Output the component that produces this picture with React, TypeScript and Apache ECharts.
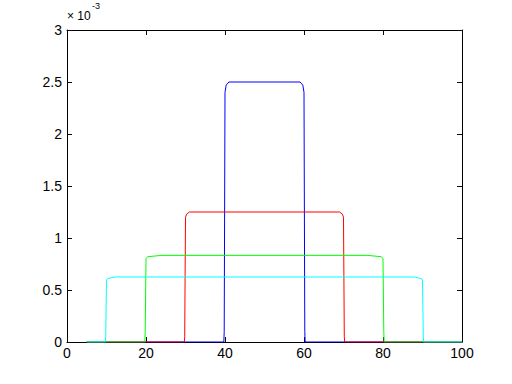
import React, { useEffect, useRef } from "react";
import * as echarts from "echarts";

const xTicks = [0, 20, 40, 60, 80, 100];
const yTickLabels = ["0", "0.5", "1", "1.5", "2", "2.5", "3"];
const yMax = 0.003;
const yStep = 0.0005;

const blueData: [number, number][] = [
  [5, 0], [39.7, 0], [39.8, 0.0001], [40.0, 0.0024], [40.3, 0.00247], [41, 0.0025],
  [59, 0.0025], [59.7, 0.00247], [60.0, 0.0024], [60.2, 0.0001], [60.3, 0], [100, 0],
];
const redData: [number, number][] = [
  [5, 0], [29.7, 0], [29.8, 0.00005], [30.0, 0.0012], [30.3, 0.00123], [31, 0.00125],
  [69, 0.00125], [69.7, 0.00123], [70.0, 0.0012], [70.2, 0.00005], [70.3, 0], [100, 0],
];
const greenData: [number, number][] = [
  [5, 0], [19.7, 0], [19.8, 0.0001], [20.0, 0.0008], [20.4, 0.00082], [24, 0.000833],
  [76, 0.000833], [79.6, 0.00082], [80.0, 0.0008], [80.2, 0.0001], [80.3, 0], [100, 0],
];
const cyanData: [number, number][] = [
  [5, 0], [9.7, 0], [9.8, 0.00005], [10.0, 0.0006], [10.4, 0.00061], [12, 0.000625],
  [88, 0.000625], [89.6, 0.00061], [90.0, 0.0006], [90.2, 0.00005], [90.3, 0], [100, 0],
];

const seriesList = [
  { name: "blue", color: "#0000ff", data: blueData },
  { name: "red", color: "#ff0000", data: redData },
  { name: "green", color: "#00ff00", data: greenData },
  { name: "cyan", color: "#00ffff", data: cyanData },
];

const FONT = "Liberation Sans";

const mkLine = () => ({ show: true, onZero: false, lineStyle: { color: "#000000", width: 1 } });
const mkTick = () => ({ show: true, inside: true, length: 5, lineStyle: { color: "#0a0a0a", width: 1, opacity: 1 } });

export default function App() {
  const ref = useRef<HTMLDivElement>(null);
  useEffect(() => {
    if (!ref.current) return;
    const chart = echarts.init(ref.current, undefined, { renderer: "svg" });
    chart.setOption({
      animation: false,
      backgroundColor: "#fff",
      grid: { left: 67, right: 50, top: 30, bottom: 42, containLabel: false },
      xAxis: [
        {
          type: "value", min: xTicks[0], max: xTicks[xTicks.length - 1], interval: 20,
          position: "bottom", axisLine: mkLine(), axisTick: mkTick(), splitLine: { show: false },
          axisLabel: { color: "#000", fontFamily: FONT, fontSize: 14, margin: 4 },
        },
        {
          type: "value", min: xTicks[0], max: xTicks[xTicks.length - 1], interval: 20,
          position: "top", axisLine: mkLine(), axisTick: mkTick(), splitLine: { show: false },
          axisLabel: { show: false },
        },
      ],
      yAxis: [
        {
          type: "value", min: 0, max: yMax, interval: yStep, position: "left",
          axisLine: mkLine(), axisTick: mkTick(), splitLine: { show: false },
          axisLabel: {
            color: "#000", fontFamily: FONT, fontSize: 14, margin: 5,
            formatter: (v: number) => yTickLabels[Math.round(v / yStep)] ?? "",
          },
        },
        {
          type: "value", min: 0, max: yMax, interval: yStep, position: "right",
          axisLine: mkLine(), axisTick: mkTick(), splitLine: { show: false }, axisLabel: { show: false },
        },
      ],
      graphic: [
        { type: "text", left: 67, top: 10, style: { text: "× 10", font: `12px "${FONT}"`, fill: "#000" } },
        { type: "text", left: 92, top: 1, style: { text: "-3", font: `9px "${FONT}"`, fill: "#000" } },
      ],
      series: seriesList.map((s) => ({
        type: "line", name: s.name, data: s.data, showSymbol: false, symbol: "none",
        xAxisIndex: 0, yAxisIndex: 0,
        lineStyle: { color: s.color, width: 1 }, itemStyle: { color: s.color },
      })),
    });
    return () => chart.dispose();
  }, []);
  return <div ref={ref} style={{ position: "absolute", left: 0, top: 0, width: 512, height: 384 }} />;
}
